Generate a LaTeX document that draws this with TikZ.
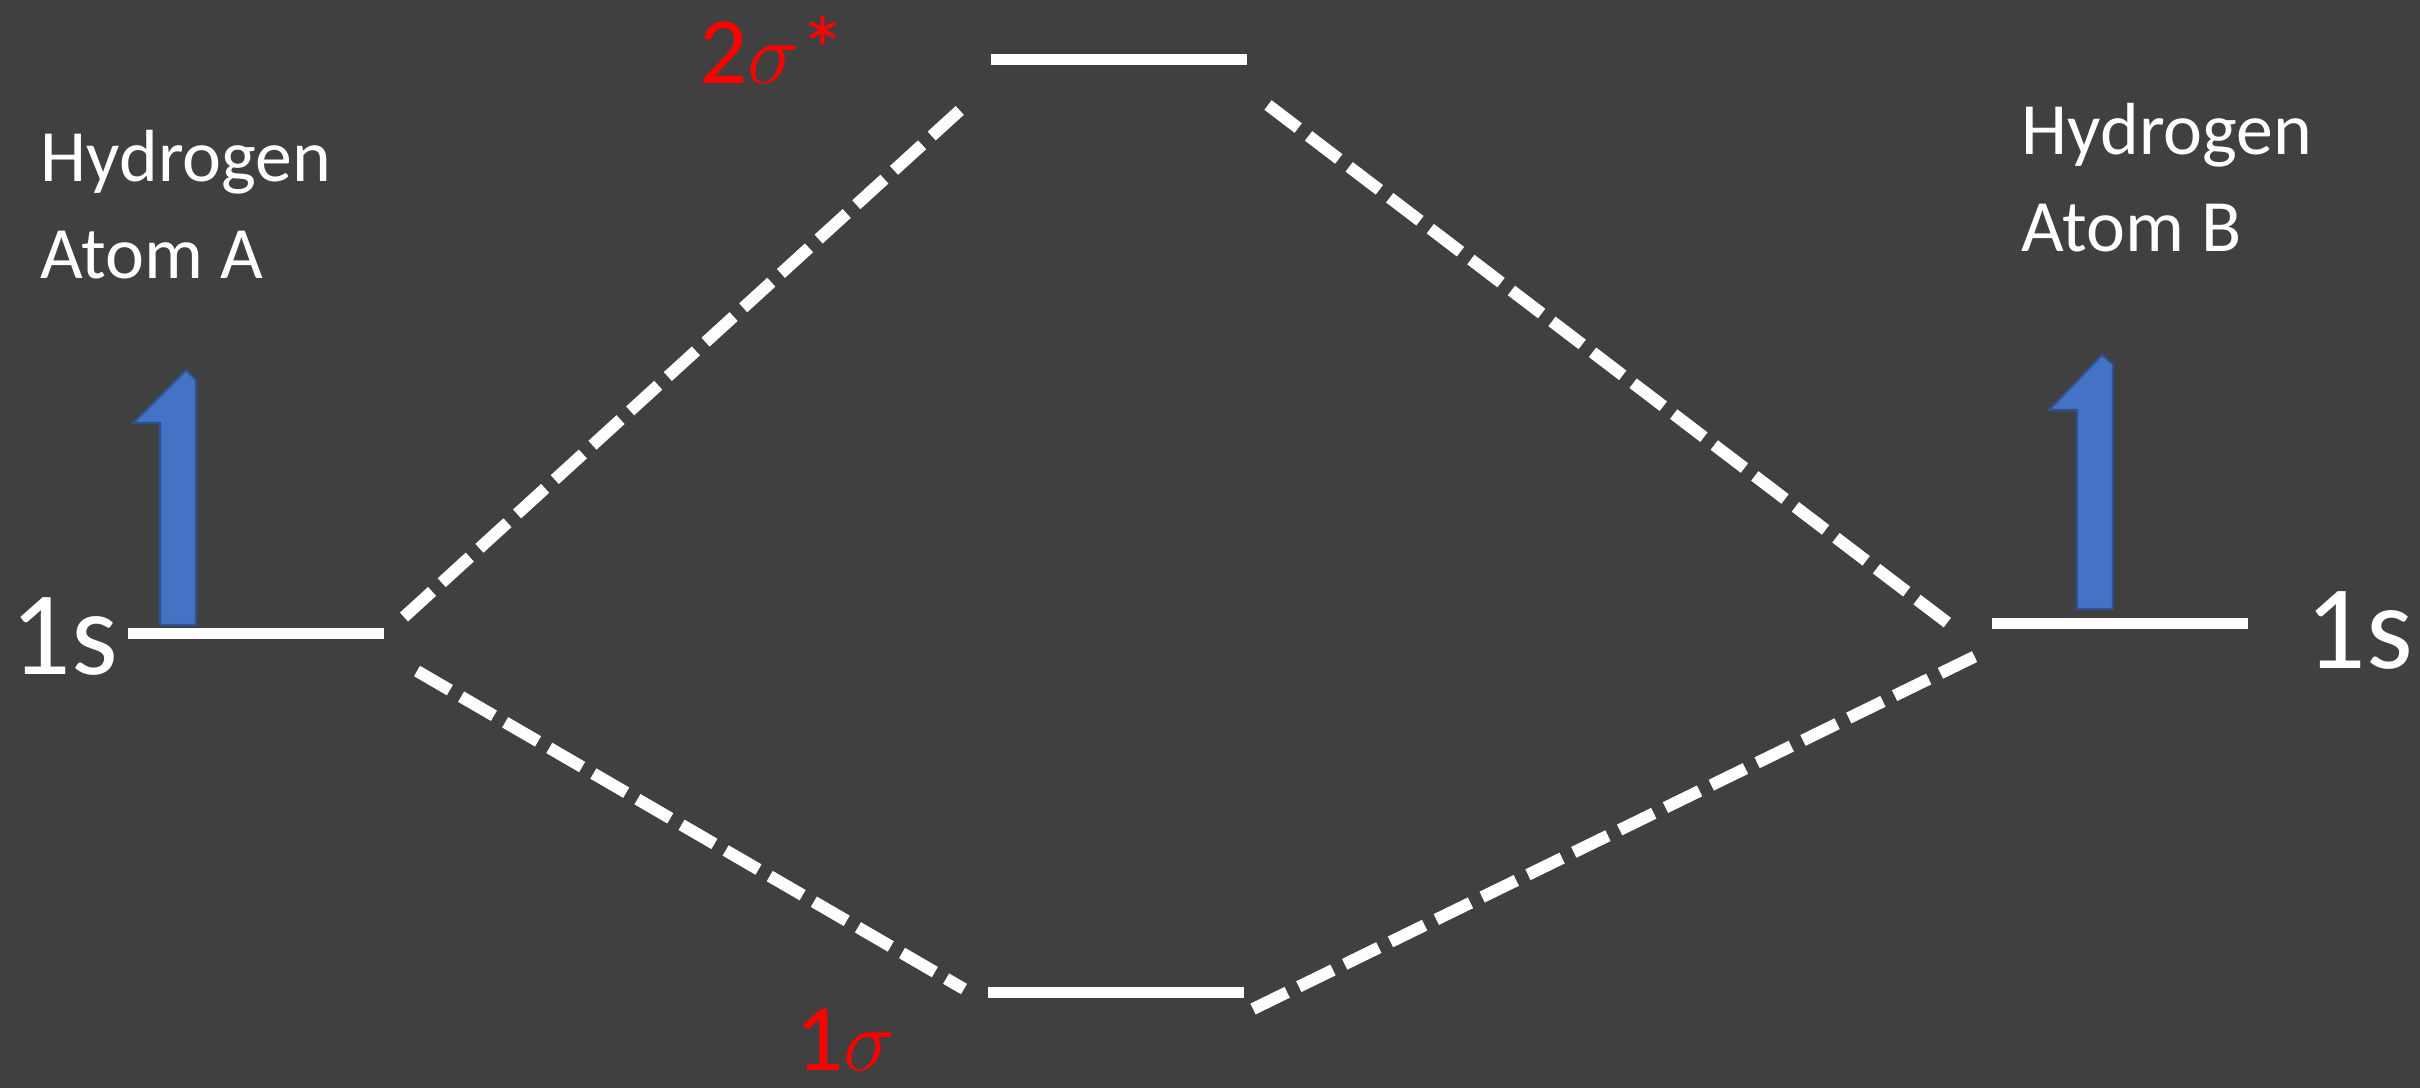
\documentclass[tikz,border=0pt]{standalone}
\usepackage{fontspec}
\setmainfont{Carlito}
\usetikzlibrary{calc}
\definecolor{bg}{RGB}{64,64,64}
\definecolor{eblue}{RGB}{68,114,196}
\definecolor{eblueedge}{RGB}{47,82,143}
\definecolor{lblred}{RGB}{255,0,0}
\tikzset{
  level/.style={fill=white, draw=none, inner sep=0pt, minimum width=2.56cm, minimum height=0.11cm},
  conn/.style={white, line width=0.12cm, dash pattern=on 0.38cm off 0.13cm},
  spin/.style={fill=eblue, draw=eblueedge, line width=0.6pt},
  atomlbl/.style={white, font=\fontsize{21}{27.5}\selectfont, align=left, inner sep=0pt, anchor=north west},
  orblbl/.style={white, font=\fontsize{34}{38}\selectfont, inner sep=0pt, anchor=base west},
  molbl/.style={lblred, font=\fontsize{27}{30}\selectfont, inner sep=0pt, anchor=base west}
}
\begin{document}
\begin{tikzpicture}
\fill[bg] (0,0) rectangle (24.2,-10.88);
\useasboundingbox (0,0) rectangle (24.2,-10.88);

% energy levels
\node[level] (A) at (2.56,-6.33) {};
\node[level] (B) at (21.20,-6.23) {};
\node[level] (S2) at (11.19,-0.59) {};
\node[level] (S1) at (11.16,-9.92) {};

% connector end points
\coordinate (a1) at (4.04,-6.17);
\coordinate (s2a) at (9.69,-1.02);
\coordinate (a2) at (4.17,-6.71);
\coordinate (s1a) at (9.64,-9.89);
\coordinate (s2b) at (12.68,-1.05);
\coordinate (b1) at (19.57,-6.30);
\coordinate (s1b) at (12.53,-10.09);
\coordinate (b2) at (19.86,-6.51);

\draw[conn] (a1) -- (s2a);
\draw[conn] (a2) -- (s1a);
\draw[conn] (s2b) -- (b1);
\draw[conn] (s1b) -- (b2);

% electron spins (half arrows)
\draw[spin] (1.60,-6.25) -- (1.60,-4.23) -- (1.33,-4.23) -- (1.86,-3.70) -- (1.96,-3.80) -- (1.96,-6.25) -- cycle;
\draw[spin] (20.77,-6.09) -- (20.77,-4.10) -- (20.49,-4.10) -- (21.02,-3.55) -- (21.13,-3.64) -- (21.13,-6.09) -- cycle;

% labels
\node[atomlbl] (ha) at (0.40,-1.30) {Hydrogen\\Atom A};
\node[atomlbl] (hb) at (20.21,-1.03) {Hydrogen\\Atom B};
\node[orblbl] (sa) at (0.10,-6.74) {1s};
\node[orblbl] (sb) at (23.05,-6.68) {1s};
\node[molbl] (l2) at (6.99,-0.83) {2$\sigma$*};
\node[molbl] (l1) at (7.95,-10.70) {1$\sigma$};
\end{tikzpicture}
\end{document}
